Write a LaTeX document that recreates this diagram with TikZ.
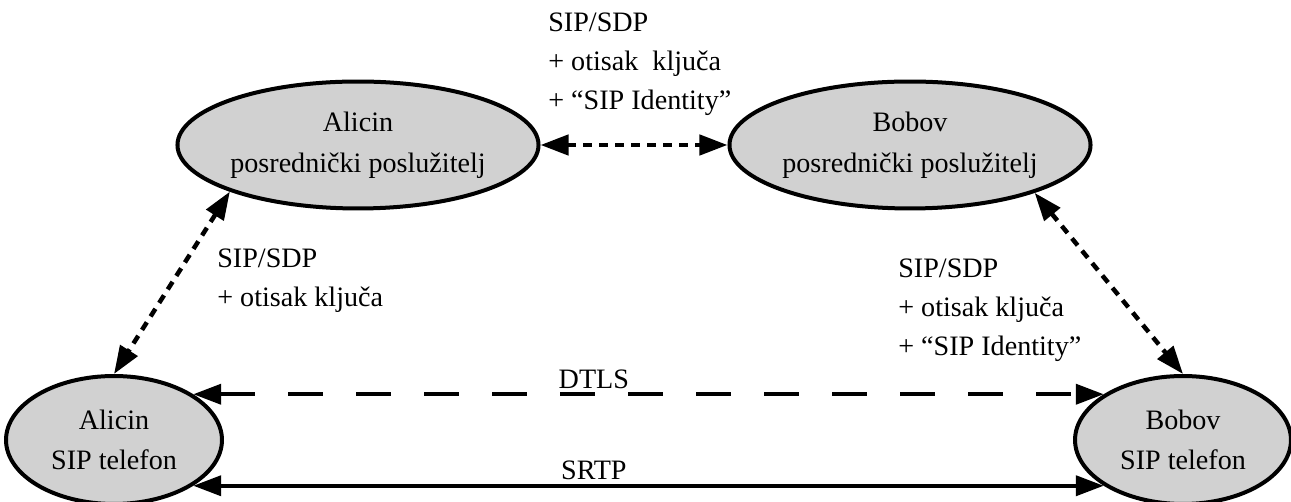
\documentclass[tikz,border=0pt]{standalone}
\usepackage{fontspec}
\setmainfont{Liberation Serif}
\usetikzlibrary{arrows.meta,shapes.geometric}
\tikzset{
box/.style={ellipse, draw, line width=0.08cm, fill=black!18, inner sep=0pt, align=center},
proxy/.style={box, minimum width=7cm, minimum height=2.54cm},
phone/.style={box, minimum width=4.32cm, minimum height=2.56cm},
link/.style={line width=0.08cm, {Triangle[length=0.56cm,width=0.4cm]}-{Triangle[length=0.56cm,width=0.4cm]}},
sig/.style={link, line width=0.09cm, dash pattern=on 0.18cm off 0.14cm},
lbl/.style={anchor=base west, align=left, inner sep=0pt}
}
\begin{document}
\begin{tikzpicture}[x=0.02cm, y=-0.02cm, font=\fontsize{16}{22.4}\selectfont]
\useasboundingbox (0,0) rectangle (1291,502);
\node[proxy] (aliproxy) at (358,145) {Alicin\\[1pt]posrednički poslužitelj};
\node[proxy] (bobproxy) at (910,145) {Bobov\\[1pt]posrednički poslužitelj};
\node[phone] (aliphone) at (114,440) {Alicin\\SIP telefon};
\node[phone] (bobphone) at (1183,440) {Bobov\\SIP telefon};
\draw[sig] (aliproxy.east) -- (bobproxy.west);
\draw[sig] (aliproxy.200) -- (aliphone.north);
\draw[sig] (bobproxy.339) -- (bobphone.north);
\draw[link, dash pattern=on 0.7cm off 0.66cm] (aliphone.30) -- node[pos=0.44, above, inner sep=2pt] (dtls) {DTLS} (bobphone.150);
\draw[link] (aliphone.-30) -- node[pos=0.44, above, inner sep=2pt] (srtp) {SRTP} (bobphone.210);
\node[lbl] (toplbl) at (548,110) {SIP/SDP\\+ otisak\ \ ključa\\+ “SIP Identity”};
\node[lbl] (leftlbl) at (217,307) {SIP/SDP\\+ otisak ključa};
\node[lbl] (rightlbl) at (898,356) {SIP/SDP\\+ otisak ključa\\+ “SIP Identity”};
\end{tikzpicture}
\end{document}
